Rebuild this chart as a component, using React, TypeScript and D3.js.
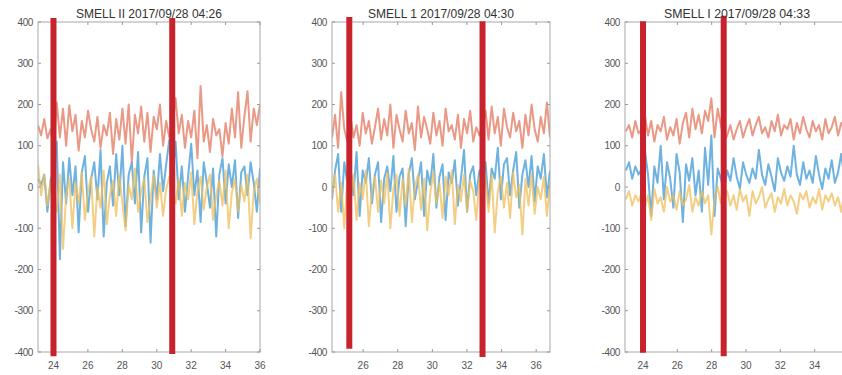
import { useEffect, useRef } from 'react';
import * as d3 from 'd3';

// panel titles
const titles = ['SMELL II 2017/09/28 04:26', 'SMELL 1 2017/09/28 04:30', 'SMELL I 2017/09/28 04:33'];

// time range of the samples in each panel (x axis units)
const timeRanges: [number, number][] = [
    [23.1, 36.0],
    [24.2, 36.8],
    [23.0, 36.1],
];

const xTickValues = [
    [24, 26, 28, 30, 32, 34, 36],
    [26, 28, 30, 32, 34, 36],
    [24, 26, 28, 30, 32, 34],
];
const yTickValues = [-400, -300, -200, -100, 0, 100, 200, 300, 400];

// event markers (x, from value, to value)
const markers1 = [
    { x: 24.0, from: 410, to: -410 },
    { x: 30.9, from: 410, to: -405 },
];
const markers2 = [
    { x: 25.2, from: 412, to: -392 },
    { x: 32.9, from: 402, to: -412 },
];
const markers3 = [
    { x: 24.0, from: 402, to: -402 },
    { x: 28.7, from: 415, to: -410 },
];

// panel 1 series
const p1Blue = [
    20, 5, 30, -60, 15, 40,
    110, -175, 60, -40, 70, -20, 50, -110, 35, 75, -60, 20, 60, -30, 90, -120, 10, 50, -45, 80,
    -20, 100, -95, 30, 60, -40, 85, -110, 25, 70, -135, 40, -30, 80, -10, 55, 115,
    20,
    110, -30, 50, -60, 25, 105, -20, 40, -85, 60, 10, -50, 45, -120, 30, 70, -40, 55, 0, 65,
    -75, 35, 50, -20, 60, 10, -60, 45,
];
const p1Orange = [
    150, 125, 165, 118, 140, 95,
    205, 120, 190, 100, 198, 135, 175, 88, 160, 120, 185, 140, 110, 170, 95, 150, 125, 180, 80, 165,
    115, 190, 105, 200, 60, 175, 130, 195, 110, 180, 85, 170, 140, 200, 100, 160, 120,
    150,
    215, 130, 175, 95, 160, 120, 185, 70, 245, 110, 150, 85, 165, 125, 140, 75, 155, 105, 190, 120,
    230, 95, 170, 232, 110, 190, 150, 200,
];
const p1Yellow = [
    55, -20, 30, -45, 10, -30,
    -60, 30, -150, -20, 20, -100, 10, -40, 35, -80, -10, 25, -120, 0, -50, 40, -90, -20, 15, -70,
    30, -40, -105, 5, -30, 45, -60, -10, 20, -85, -25, 30, -50, 10, -70, -5, 25,
    -20,
    -40, 20, -70, 10, -30, 35, -90, -10, 25, -55, 0, 30, -80, -20, 15, -45, 40, -100, -15, 20,
    -60, 5, -35, 30, -125, -10, 20, -40,
];

// panel 2 series
const p2Blue = [
    -30, 40, 80, -60, 60, 10,
    50, -20, 85, -70, 40, 10, 70, -40, 30, 60, -85, 20, 50, -10, 75, -60, 25, 45, -95, 30,
    70, -30, 15, 60, -70, 40, 5, 80, -50, 25, 55, -80, 35, 10, 65, -45, 20, 90, -60, 30,
    50, -20, 40,
    10, 60, -40, 45, 20, 95, -30, 55, 70, -20, 40, 85, -50, 30, 65, 0, 75, -35, 50, 20,
    80, -25, 40,
];
const p2Orange = [
    120, 175, 95, 230, 140, 110,
    170, 120, 150, 100, 180, 130, 160, 105, 145, 190, 115, 165, 125, 200, 95, 175, 140, 110, 185, 130,
    155, 90, 195, 120, 170, 140, 105, 180, 125, 160, 100, 190, 135, 150, 115, 175, 95, 165, 130, 185,
    110, 145, 125,
    150, 185, 115, 195, 130, 170, 100, 190, 145, 120, 180, 135, 160, 95, 175, 125, 200, 140, 110, 170,
    130, 205, 120,
];
const p2Yellow = [
    -20, 30, -60, 10, -100, 20,
    -40, 30, -80, 10, -30, 40, -95, -10, 25, -60, 15, -40, 35, -100, -5, 30, -70, 20, -45, 45,
    -85, 0, 30, -55, 20, -105, -15, 35, -40, 10, -75, 25, -20, 40, -90, 5, -35, 30, -60, 15,
    -10, -80, 20,
    -30, 20, -60, 30, -110, -10, 25, -50, 10, -75, 35, -25, 5, -115, 20, -45, 30, -65, 0, -30,
    25, -70, 10,
];

// panel 3 series
const p3Blue = [
    40, 60, 20, 50, 30, 45,
    90, 30, -70, 50, 10, 100, -30, 60, 20, -50, 80, 35, -85, 55, 15, 70, -20, 40, -60, 95,
    5, 125, -70, 45, 20,
    -10, 40, 15, 70, 25, -5, 60, 30, 10, 45, 20, 90, 30, 5, 55, 25, -10, 70, 35, 15,
    50, 25, 100, 30, 5, 60, 20, 40, 10, 75, 30, -5, 45, 20, 65, 10, 35, 80, 20, 50, 25,
];
const p3Orange = [
    135, 150, 120, 160, 130, 140,
    175, 125, 160, 110, 150, 135, 170, 115, 145, 125, 165, 105, 155, 180, 120, 190, 140, 175, 130, 185,
    160, 215, 120, 190, 150,
    110, 125, 150, 115, 140, 160, 120, 145, 165, 125, 150, 170, 130, 145, 120, 160, 135, 175, 125, 150,
    140, 165, 115, 155, 130, 170, 140, 120, 160, 135, 150, 115, 165, 130, 145, 170, 125, 155, 140, 110, 150,
];
const p3Yellow = [
    -30, -10, -45, -20, -35, -15,
    -50, -20, -80, -5, -40, -25, -60, 0, -35, -20, -55, -10, -45, -30, 5, -60, -25, -45, -10, -40,
    -20, -115, -30, 0, -40,
    -30, -10, -45, -20, -55, -5, -35, -20, -70, -10, -40, -25, 0, -50, -30, -15, -60, -25, -40, -5,
    -45, -20, -35, -65, -15, -30, -10, -50, -25, -40, -5, -55, -20, -35, -15, -45, -25, -60, -10, -35, -20,
];

const seriesColors = ['#3d98d6', '#e2775c', '#efbf5c'];

const panels = [
    { title: titles[0], range: timeRanges[0], domain: [23.1, 36.0], xTicks: xTickValues[0], markers: markers1, series: [p1Blue, p1Orange, p1Yellow], left: 38, right: 260 },
    { title: titles[1], range: timeRanges[1], domain: [24.2, 36.8], xTicks: xTickValues[1], markers: markers2, series: [p2Blue, p2Orange, p2Yellow], left: 332, right: 550 },
    { title: titles[2], range: timeRanges[2], domain: [22.95, 36.0], xTicks: xTickValues[2], markers: markers3, series: [p3Blue, p3Orange, p3Yellow], left: 625, right: 849 },
];

const width = 842;
const height = 375;
const top = 22;
const bottom = 352;

const App = () => {
    const svgRef = useRef<SVGSVGElement>(null);

    useEffect(() => {
        const svg = d3.select(svgRef.current);
        svg.selectAll('*').remove();

        const y = d3.scaleLinear().domain([-400, 400]).range([bottom, top]);

        panels.forEach((p, i) => {
            const x = d3.scaleLinear().domain(p.domain).range([p.left, p.right]);
            const g = svg.append('g');

            const clipId = `clip-${i}`;
            svg.append('defs')
                .append('clipPath')
                .attr('id', clipId)
                .append('rect')
                .attr('x', p.left)
                .attr('y', top)
                .attr('width', p.right - p.left)
                .attr('height', bottom - top);

            // data lines
            const lines = g.append('g').attr('clip-path', `url(#${clipId})`);
            p.series.forEach((values, si) => {
                const step = (p.range[1] - p.range[0]) / (values.length - 1);
                const line = d3
                    .line<number>()
                    .x((_, k) => x(p.range[0] + k * step))
                    .y(d => y(d));
                lines
                    .append('path')
                    .datum(values)
                    .attr('d', line)
                    .attr('fill', 'none')
                    .attr('stroke', seriesColors[si])
                    .attr('stroke-width', 2)
                    .attr('stroke-opacity', 0.75)
                    .attr('stroke-linejoin', 'round');
            });

            // box
            g.append('rect')
                .attr('x', p.left)
                .attr('y', top)
                .attr('width', p.right - p.left)
                .attr('height', bottom - top)
                .attr('fill', 'none')
                .attr('stroke', '#a8a8a8')
                .attr('stroke-width', 1);

            // ticks: bottom / top
            p.xTicks.forEach(t => {
                const xp = x(t);
                g.append('line').attr('x1', xp).attr('x2', xp).attr('y1', bottom).attr('y2', bottom - 3).attr('stroke', '#999');
                g.append('line').attr('x1', xp).attr('x2', xp).attr('y1', top).attr('y2', top + 3).attr('stroke', '#999');
                g.append('text')
                    .attr('x', xp)
                    .attr('y', 369)
                    .attr('text-anchor', 'middle')
                    .attr('font-size', 10)
                    .attr('font-family', 'Liberation Sans, Arial, sans-serif')
                    .attr('fill', '#555')
                    .text(String(t));
            });

            // ticks: left / right
            yTickValues.forEach(t => {
                const yp = y(t);
                g.append('line').attr('x1', p.left).attr('x2', p.left + 3).attr('y1', yp).attr('y2', yp).attr('stroke', '#999');
                g.append('line').attr('x1', p.right).attr('x2', p.right - 3).attr('y1', yp).attr('y2', yp).attr('stroke', '#999');
                g.append('text')
                    .attr('x', p.left - 5)
                    .attr('y', yp + 3.5)
                    .attr('text-anchor', 'end')
                    .attr('font-size', 10)
                    .attr('letter-spacing', -0.4)
                    .attr('font-family', 'Liberation Sans, Arial, sans-serif')
                    .attr('fill', '#555')
                    .text(String(t));
            });

            // event markers
            p.markers.forEach(m => {
                g.append('line')
                    .attr('x1', x(m.x))
                    .attr('x2', x(m.x))
                    .attr('y1', y(m.from))
                    .attr('y2', y(m.to))
                    .attr('stroke', '#c8232c')
                    .attr('stroke-width', 6);
            });

            // title
            g.append('text')
                .attr('x', (p.left + p.right) / 2)
                .attr('y', 18)
                .attr('text-anchor', 'middle')
                .attr('font-size', 13)
                .attr('font-family', 'Liberation Sans, Arial, sans-serif')
                .attr('fill', '#333')
                .attr('textLength', 146)
                .attr('lengthAdjust', 'spacingAndGlyphs')
                .text(p.title);
        });
    }, []);

    return (
        <svg
            ref={svgRef}
            width={width}
            height={height}
            style={{ position: 'absolute', left: 0, top: 0, display: 'block', background: '#fff' }}
        ></svg>
    );
};

export default App;
